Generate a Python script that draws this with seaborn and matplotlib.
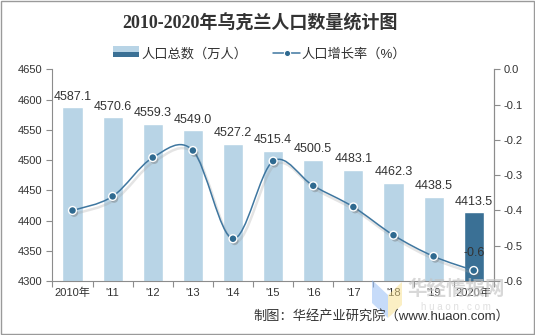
import numpy as np
import pandas as pd
import matplotlib
matplotlib.use('Agg')
import matplotlib.pyplot as plt
import seaborn as sns
from matplotlib.path import Path
from matplotlib.patches import PathPatch, Rectangle, Polygon
from matplotlib.lines import Line2D
from matplotlib.legend_handler import HandlerBase
import matplotlib.patheffects as pe
import matplotlib.transforms as mtransforms

# ---- data ----
years = ['2010', '2011', '2012', '2013', '2014', '2015', '2016', '2017', '2018', '2019', '2020']
tick_labels = ['2010年', "'11", "'12", "'13", "'14", "'15", "'16", "'17", "'18", "'19", '2020年']
population = [4587.1, 4570.6, 4559.3, 4549.0, 4527.2, 4515.4, 4500.5, 4483.1, 4462.3, 4438.5, 4413.5]
growth = [-0.40, -0.36, -0.25, -0.23, -0.48, -0.26, -0.33, -0.39, -0.47, -0.53, -0.57]
left_ticks = [4300, 4350, 4400, 4450, 4500, 4550, 4600, 4650]
right_ticks = [-0.6, -0.5, -0.4, -0.3, -0.2, -0.1, 0.0]

title = '2010-2020年乌克兰人口数量统计图'
bar_label = '人口总数（万人）'
line_label = '人口增长率（%）'
source = '制图：华经产业研究院（www.huaon.com）'

LIGHT = '#B8D4E6'
DARK = '#3A7095'
LINE = '#3F77A0'
MARK = '#2F6A90'
TXT = '#333333'
GRID = '#8C8C8C'

sns.set_theme(style='white')
plt.rcParams['font.family'] = ['Liberation Sans', 'Noto Sans CJK SC']
plt.rcParams['axes.unicode_minus'] = False

fig = plt.figure(figsize=(5.35, 3.35), dpi=100)
ax = fig.add_axes([0.098, 0.161, 0.825, 0.632])

df = pd.DataFrame({'year': years, 'pop': population})
palette = [LIGHT] * (len(years) - 1) + [DARK]
sns.barplot(data=df, x='year', y='pop', hue='year', palette=palette, legend=False,
            width=0.5, saturation=1, ax=ax, zorder=2)

ax.set_ylim(left_ticks[0], left_ticks[-1])
ax.set_yticks(left_ticks)
ax.set_yticklabels([str(t) for t in left_ticks], fontsize=8, color=TXT)
ax.set_xlim(-0.5, len(years) - 0.5)
ax.set_xticks(range(len(years)))
ax.set_xticklabels(tick_labels, fontsize=8, color=TXT)
ax.set_xticks(np.arange(-0.5, len(years), 1.0), minor=True)
ax.tick_params(axis='x', which='major', length=0, pad=5)
ax.tick_params(axis='x', which='minor', length=4, color=GRID, width=0.8, direction='out', bottom=True)
ax.tick_params(axis='y', length=4, color=GRID, width=0.8, direction='out', left=True, pad=3)
ax.set_xlabel('')
ax.set_ylabel('')
ax.spines['top'].set_visible(False)
for s in ['left', 'bottom', 'right']:
    ax.spines[s].set_color(GRID)
    ax.spines[s].set_linewidth(0.8)

for i, v in enumerate(population):
    ax.annotate(f'{v:.1f}', (i, v), xytext=(0, 3.5), textcoords='offset points',
                ha='center', va='bottom', fontsize=9, color=TXT)

ax2 = ax.twinx()
ax2.set_ylim(right_ticks[0], right_ticks[-1])
ax2.set_yticks(right_ticks)
ax2.set_yticklabels([f'{t:.1f}' for t in right_ticks], fontsize=8, color=TXT)
ax2.tick_params(axis='y', length=4, color=GRID, width=0.8, direction='out', right=True, pad=3)
for s in ['top', 'left', 'bottom']:
    ax2.spines[s].set_visible(False)
ax2.spines['right'].set_color(GRID)
ax2.spines['right'].set_linewidth(0.8)
ax2.grid(False)

# smooth (Catmull-Rom style) line through the data points
pts = np.column_stack([np.arange(len(growth), dtype=float), np.array(growth, dtype=float)])
n = len(pts)
verts = [tuple(pts[0])]
codes = [Path.MOVETO]
for i in range(n - 1):
    p0 = pts[i - 1] if i > 0 else pts[i]
    p1 = pts[i]
    p2 = pts[i + 1]
    p3 = pts[i + 2] if i + 2 < n else pts[i + 1]
    c1 = p1 + (p2 - p0) / 6.0
    c2 = p2 - (p3 - p1) / 6.0
    verts += [tuple(c1), tuple(c2), tuple(p2)]
    codes += [Path.CURVE4] * 3
shadow_tf = ax2.transData + mtransforms.ScaledTranslation(1.5 / 72, -2.5 / 72, fig.dpi_scale_trans)
shadow_curve = PathPatch(Path(verts, codes), fill=False, edgecolor='#a0a0a0', lw=1.8, alpha=0.28, zorder=2.5,
                         transform=shadow_tf)
curve = PathPatch(Path(verts, codes), fill=False, edgecolor=LINE, lw=1.1, zorder=3)
ax2.add_patch(shadow_curve)
ax2.add_patch(curve)

gdf = pd.DataFrame({'x': np.arange(len(growth)), 'g': growth})
sns.scatterplot(data=gdf, x='x', y='g', ax=ax2, s=32, color=MARK, edgecolor='white', linewidth=1.0, zorder=5,
                legend=False)
ax2.collections[-1].set_path_effects([pe.SimplePatchShadow(offset=(1.2, -1.8), shadow_rgbFace='#666666', alpha=0.35),
                                      pe.Normal()])
ax2.set_xlabel('')
ax2.set_ylabel('')
ax.set_xlim(-0.5, len(years) - 0.5)

# label on the last growth point
ax2.annotate(f'{growth[-1]:.1f}', (len(growth) - 1, growth[-1]), xytext=(0, 8), textcoords='offset points',
             ha='center', va='bottom', fontsize=9, color=TXT, zorder=6)


# ---- legend ----
class TwoTone(HandlerBase):
    def create_artists(self, legend, orig, xd, yd, w, h, fontsize, trans):
        r1 = Rectangle((xd, yd + h / 2), w, h / 2, facecolor=LIGHT, edgecolor='none', transform=trans)
        r2 = Rectangle((xd, yd), w, h / 2, facecolor=DARK, edgecolor='none', transform=trans)
        return [r1, r2]


bar_handle = Rectangle((0, 0), 1, 1)
line_handle = Line2D([], [], color=LINE, lw=1.1, marker='o', markersize=4.5, markerfacecolor=MARK,
                     markeredgecolor='white', markeredgewidth=0.8)
fig.legend([bar_handle, line_handle], [bar_label, line_label], loc='center',
           bbox_to_anchor=(0.485, 0.837), ncol=2, frameon=False, fontsize=9.5,
           handlelength=2.0, handleheight=0.9, handletextpad=0.15, columnspacing=2.0,
           handler_map={Rectangle: TwoTone()}, labelcolor=TXT)

# ---- title & source ----
fig.text(0.486, 0.93, title, ha='center', va='center', fontsize=13, fontweight='bold',
         color=TXT, family=['Liberation Serif', 'Noto Sans CJK SC'])
fig.text(0.952, 0.057, source, ha='right', va='center', fontsize=9.5, color=TXT)

# watermark (faint)
fig.patches.append(Polygon([[372/535, 1-280/335], [388/535, 1-295/335], [388/535, 1-318/335], [372/535, 1-303/335]],
                           closed=True, transform=fig.transFigure, facecolor='#8EB8F5', alpha=0.5, edgecolor='none'))
fig.patches.append(Polygon([[388/535, 1-295/335], [402/535, 1-282/335], [402/535, 1-305/335], [388/535, 1-318/335]],
                           closed=True, transform=fig.transFigure, facecolor='#F8E08A', alpha=0.5, edgecolor='none'))
fig.text(0.852, 0.137, '华经情报网', ha='center', va='center', fontsize=14, fontweight='bold',
         color='#c4c4c4', alpha=0.65)
fig.text(0.852, 0.085, 'h u a o n . c o m', ha='center', va='center', fontsize=7, color='#cfcfcf', alpha=0.65)

# outer border
fig.patches.append(Rectangle((0.001, 0.002), 0.997, 0.995, transform=fig.transFigure, fill=False,
                             edgecolor='#9a9a9a', lw=1.0))

fig.savefig('out.png', dpi=100)
